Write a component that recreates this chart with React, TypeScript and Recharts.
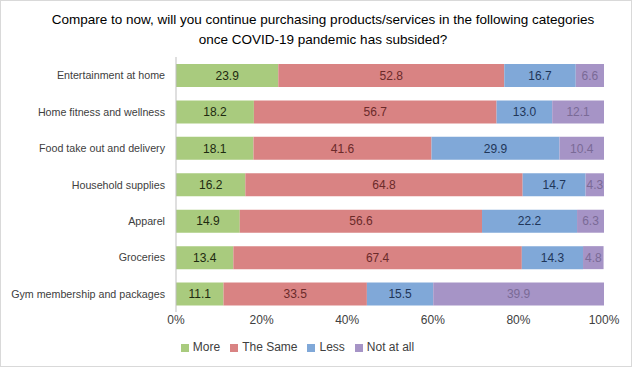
import React from 'react';
import { BarChart, Bar, XAxis, YAxis, Legend, LabelList } from 'recharts';

const categories = [
  'Entertainment at home',
  'Home fitness and wellness',
  'Food take out and delivery',
  'Household supplies',
  'Apparel',
  'Groceries',
  'Gym membership and packages',
];
const more = [23.9, 18.2, 18.1, 16.2, 14.9, 13.4, 11.1];
const theSame = [52.8, 56.7, 41.6, 64.8, 56.6, 67.4, 33.5];
const less = [16.7, 13.0, 29.9, 14.7, 22.2, 14.3, 15.5];
const notAtAll = [6.6, 12.1, 10.4, 4.3, 6.3, 4.8, 39.9];
const xTicks = [0, 20, 40, 60, 80, 100];
const seriesOrder = ['More', 'The Same', 'Less', 'Not at all'];

const data = categories.map((name, i) => ({
  name,
  more: more[i],
  same: theSame[i],
  less: less[i],
  notAtAll: notAtAll[i],
}));

const font = '"Liberation Sans", Arial, sans-serif';
const fmt = (v: any) => Number(v).toFixed(1);

// plain tick so the long label stays on one line
const CategoryTick = (props: any) => {
  const { x, y, payload } = props;
  return (
    <text x={x} y={y} dy={4} textAnchor="end" fill="#404040" fontSize={10.7} fontFamily={font}>
      {payload.value}
    </text>
  );
};

export default function App() {
  return (
    <div
      style={{
        position: 'absolute',
        left: 0,
        top: 0,
        width: 630,
        height: 365,
        border: '1px solid #d9d9d9',
        background: '#fff',
        fontFamily: font,
      }}
    >
      <div
        style={{
          position: 'absolute',
          top: 9,
          left: 7,
          width: 630,
          textAlign: 'center',
          fontSize: 13.5,
          lineHeight: '20px',
          color: '#000',
        }}
      >
        Compare to now, will you continue purchasing products/services in the following categories
        <br />
        once COVID-19 pandemic has subsided?
      </div>
      <BarChart
        width={630}
        height={365}
        data={data}
        layout="vertical"
        barSize={23}
        margin={{ top: 56, right: 27, left: 0, bottom: 12 }}
        style={{ position: 'absolute', left: 0, top: 0, fontFamily: font }}
      >
        <XAxis
          type="number"
          domain={[0, 100]}
          ticks={xTicks}
          tickFormatter={(v) => `${v}%`}
          axisLine={false}
          tickLine={false}
          tick={{ fill: '#404040', fontSize: 12, dy: -3 }}
          tickMargin={0}
          height={28}
        />
        <YAxis
          type="category"
          dataKey="name"
          width={175}
          axisLine={{ stroke: '#bfbfbf' }}
          tickLine={false}
          tick={<CategoryTick />}
          tickMargin={5}
        />
        <Legend
          verticalAlign="bottom"
          iconType="square"
          iconSize={8}
          itemSorter={(item: any) => seriesOrder.indexOf(item.value)}
          wrapperStyle={{ fontSize: 12, color: '#404040' }}
          formatter={(v) => <span style={{ color: '#404040' }}>{v}</span>}
        />
        <Bar dataKey="more" name="More" stackId="a" fill="#A9CB7E" isAnimationActive={false}>
          <LabelList dataKey="more" position="center" formatter={fmt} fill="#1e2a10" fontSize={12} />
        </Bar>
        <Bar dataKey="same" name="The Same" stackId="a" fill="#D98383" isAnimationActive={false}>
          <LabelList dataKey="same" position="center" formatter={fmt} fill="#6b2a2a" fontSize={12} />
        </Bar>
        <Bar dataKey="less" name="Less" stackId="a" fill="#80A8D8" isAnimationActive={false}>
          <LabelList dataKey="less" position="center" formatter={fmt} fill="#1f3659" fontSize={12} />
        </Bar>
        <Bar dataKey="notAtAll" name="Not at all" stackId="a" fill="#A694C6" isAnimationActive={false}>
          <LabelList dataKey="notAtAll" position="center" formatter={fmt} fill="#7a6a96" fontSize={12} />
        </Bar>
      </BarChart>
    </div>
  );
}
